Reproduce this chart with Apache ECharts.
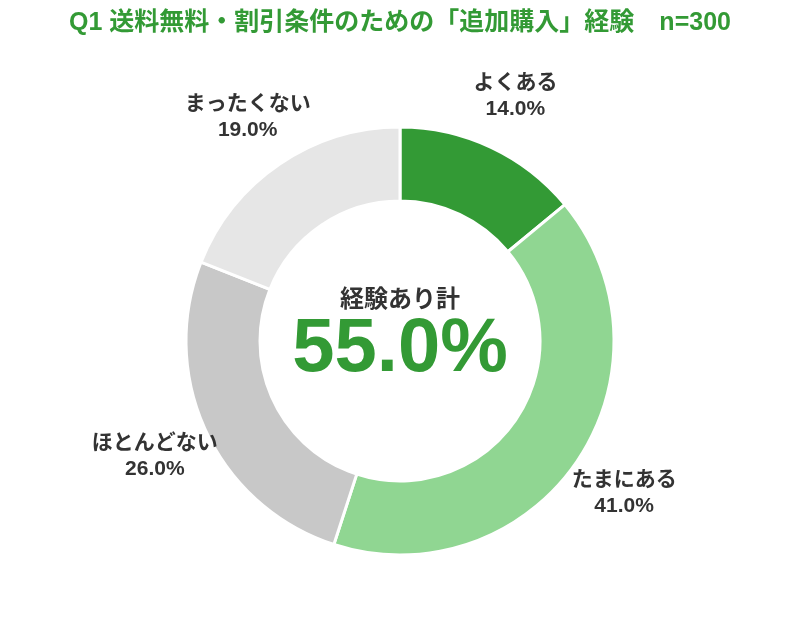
<!DOCTYPE html>
<html>
<head>
<meta charset="utf-8">
<script src="https://cdn.jsdelivr.net/npm/echarts@6/dist/echarts.min.js"></script>
<style>
  html, body { margin: 0; padding: 0; background: #fff; }
  #chart { width: 800px; height: 622px; }
</style>
</head>
<body>
<div id="chart"></div>
<script>
var titleText = 'Q1 送料無料・割引条件のための「追加購入」経験　n=300';
var categories = ['よくある', 'たまにある', 'ほとんどない', 'まったくない'];
var values = [14.0, 41.0, 26.0, 19.0];
var colors = ['#339a35', '#90d692', '#c8c8c8', '#e6e6e6'];
var centerLabel = '経験あり計';

var chart = echarts.init(document.getElementById('chart'));

var jpFont = '"Liberation Sans", "Noto Sans CJK JP", sans-serif';
var total = (values[0] + values[1]).toFixed(1) + '%';

var pieData = categories.map(function (name, i) {
    return { name: name, value: values[i], itemStyle: { color: colors[i] } };
});

var option = {
    animation: false,
    title: {
        text: titleText,
        left: 'center',
        top: 6,
        textStyle: {
            color: '#339a35',
            fontSize: 25,
            fontWeight: 'bold',
            fontFamily: jpFont
        }
    },
    graphic: [
        {
            type: 'text',
            left: 'center',
            top: 288,
            style: {
                text: centerLabel,
                fill: '#333',
                font: 'bold 24px ' + jpFont
            }
        },
        {
            type: 'text',
            left: 'center',
            top: 312,
            style: {
                text: total,
                fill: '#339a35',
                font: 'bold 76px ' + jpFont
            }
        }
    ],
    series: [
        {
            type: 'pie',
            center: ['50%', 341],
            radius: [140, 214],
            startAngle: 90,
            clockwise: true,
            silent: true,
            itemStyle: { borderColor: '#fff', borderWidth: 3 },
            label: { show: false },
            labelLine: { show: false },
            data: pieData
        },
        {
            type: 'pie',
            center: ['50%', 341],
            radius: [258, 278],
            startAngle: 90,
            clockwise: true,
            silent: true,
            itemStyle: { color: 'rgba(0,0,0,0)' },
            labelLine: { show: false },
            label: {
                show: true,
                position: 'inside',
                rotate: 0,
                color: '#333',
                fontSize: 21,
                fontWeight: 'bold',
                fontFamily: jpFont,
                lineHeight: 26,
                formatter: function (p) {
                    return p.name + '\n' + p.value.toFixed(1) + '%';
                }
            },
            data: pieData.map(function (d) {
                return { name: d.name, value: d.value };
            })
        }
    ]
};

chart.setOption(option);
</script>
</body>
</html>
